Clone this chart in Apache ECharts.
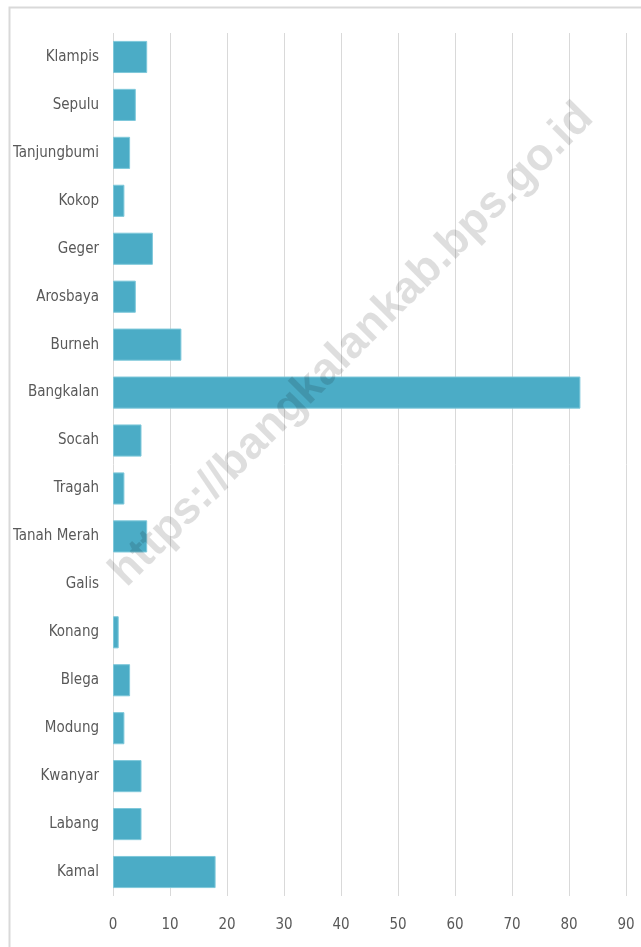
<!DOCTYPE html>
<html>
<head>
<meta charset="utf-8">
<script src="https://cdn.jsdelivr.net/npm/echarts@6/dist/echarts.min.js"></script>
<style>
  html, body { margin: 0; padding: 0; background: #ffffff; }
  #chart { width: 641px; height: 947px; }
</style>
</head>
<body>
<div id="chart"></div>
<script>
// Kecamatan in Kabupaten Bangkalan, listed bottom to top
const districts = [
  'Kamal', 'Labang', 'Kwanyar', 'Modung', 'Blega', 'Konang', 'Galis',
  'Tanah Merah', 'Tragah', 'Socah', 'Bangkalan', 'Burneh', 'Arosbaya',
  'Geger', 'Kokop', 'Tanjungbumi', 'Sepulu', 'Klampis'
];
const counts = [18, 5, 5, 2, 3, 1, 0, 6, 2, 5, 82, 12, 4, 7, 2, 3, 4, 6];
const xTicks = { min: 0, max: 90, interval: 10 };
const watermark = 'https://bangkalankab.bps.go.id';

const labelFont = "'DejaVu Sans Condensed', Roboto, sans-serif";
const chart = echarts.init(document.getElementById('chart'), null, { renderer: 'canvas' });

// zero-value bars get no outline so nothing is drawn for them
const barData = counts.map(v => (v === 0 ? { value: v, itemStyle: { borderWidth: 0 } } : v));

chart.setOption({
  animation: false,
  backgroundColor: '#ffffff',
  grid: {
    left: 113, right: 15, top: 33, bottom: 51,
    containLabel: false,
    outerBoundsMode: 'none'
  },
  xAxis: {
    type: 'value',
    min: xTicks.min,
    max: xTicks.max,
    interval: xTicks.interval,
    axisLine: { show: false },
    axisTick: { show: false },
    axisLabel: { color: '#595959', fontFamily: labelFont, fontSize: 15, margin: 22 },
    splitLine: { show: true, lineStyle: { color: '#d9d9d9', width: 1 } }
  },
  yAxis: {
    type: 'category',
    data: districts,
    axisLine: { show: false },
    axisTick: { show: false },
    axisLabel: { color: '#595959', fontFamily: labelFont, fontSize: 15, margin: 14 },
    splitLine: { show: false }
  },
  series: [{
    type: 'bar',
    data: barData,
    barCategoryGap: '33%',
    itemStyle: { color: '#4bacc6', borderColor: '#7ec8da', borderWidth: 1 },
    z: 2
  }],
  graphic: [
    {
      type: 'rect',
      left: 7, top: 5,
      shape: { width: 640, height: 945 },
      style: { fill: 'none', stroke: '#d9d9d9', lineWidth: 2 },
      silent: true, z: -1
    },
    {
      type: 'text',
      x: 352, y: 345,
      rotation: Math.PI / 4,
      style: {
        text: watermark,
        fill: 'rgba(0,0,0,0.13)',
        font: "bold 45px 'Liberation Sans', Arial, sans-serif",
        align: 'center',
        verticalAlign: 'middle'
      },
      silent: true, z: 100
    }
  ]
});
</script>
</body>
</html>
